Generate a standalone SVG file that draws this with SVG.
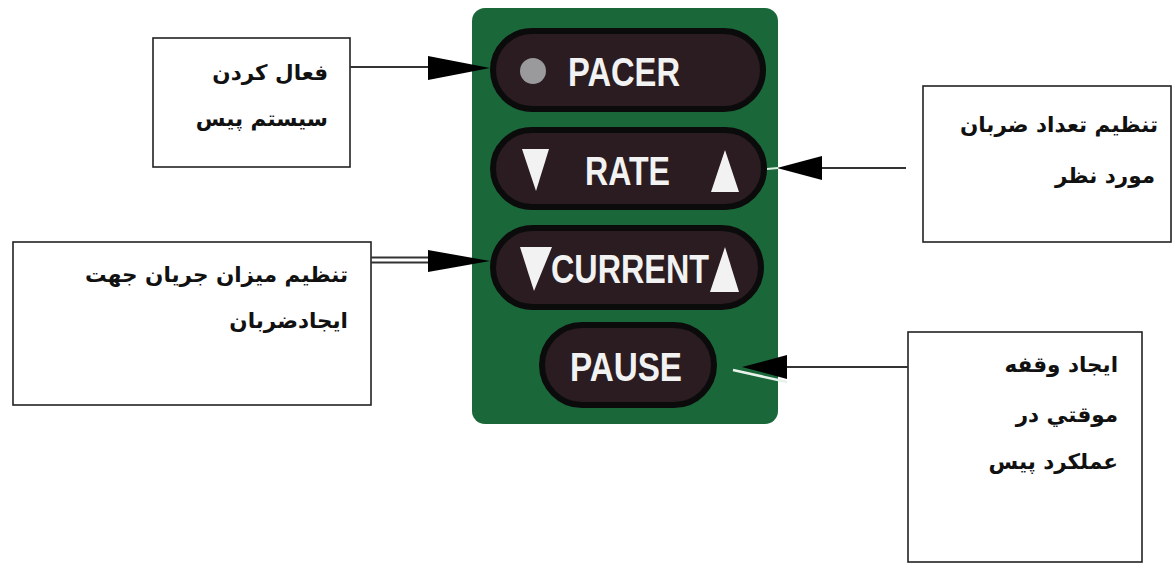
<svg xmlns="http://www.w3.org/2000/svg" width="1174" height="568" viewBox="0 0 1174 568">
<style>
.box{fill:#fff;stroke:#222;stroke-width:1.6}
.lbl{font-family:"DejaVu Sans",sans-serif;font-weight:bold;font-size:21.5px;fill:#111;text-anchor:end}
.btn{fill:#2a1c21;stroke:#0b0b0b;stroke-width:6}
.bt{font-family:"Liberation Sans",Arial,sans-serif;font-weight:bold;fill:#f2f2f2;font-size:40px}
.con{stroke:#333;stroke-width:1.8;fill:none}
.tri{fill:#f2f2f2}
</style>
<rect width="1174" height="568" fill="#fff"/>

<g id="panel">
<rect x="472" y="8" width="306" height="416" rx="13" fill="#1a673a"/>
</g>

<g id="btn-pacer">
<rect class="btn" x="493" y="31" width="270" height="78" rx="39"/>
<circle cx="533" cy="71" r="13" fill="#9a9a9c"/>
<text class="bt" x="568" y="86" textLength="112" lengthAdjust="spacingAndGlyphs">PACER</text>
</g>
<g id="btn-rate">
<rect class="btn" x="493" y="130" width="271" height="77" rx="38.5"/>
<polygon class="tri" points="522,149 549,149 536,191"/>
<text class="bt" x="585" y="185" textLength="85" lengthAdjust="spacingAndGlyphs">RATE</text>
<polygon class="tri" points="725,150 739,192 711,192"/>
</g>
<g id="btn-current">
<rect class="btn" x="493" y="228" width="268" height="79" rx="39.5"/>
<polygon class="tri" points="520,247 552,247 534,291"/>
<text class="bt" x="551" y="283" textLength="158" lengthAdjust="spacingAndGlyphs">CURRENT</text>
<polygon class="tri" points="725,247 739,292 710,292"/>
</g>
<g id="btn-pause">
<rect class="btn" x="542" y="325" width="172" height="80" rx="40"/>
<text class="bt" x="570" y="381" textLength="112" lengthAdjust="spacingAndGlyphs">PAUSE</text>
</g>

<g id="node-pacer">
<rect class="box" x="153" y="38" width="197" height="129"/>
<text class="lbl" x="328" y="80">فعال کردن</text>
<text class="lbl" x="328" y="126">سیستم پیس</text>
</g>
<g id="node-rate">
<rect class="box" x="923" y="86" width="248" height="156"/>
<text class="lbl" x="1158" y="132">تنظیم تعداد ضربان</text>
<text class="lbl" x="1155" y="183">مورد نظر</text>
</g>
<g id="node-current">
<rect class="box" x="13" y="242" width="358" height="163"/>
<text class="lbl" x="348" y="282">تنظیم میزان جریان جهت</text>
<text class="lbl" x="348" y="328">ایجادضربان</text>
</g>
<g id="node-pause">
<rect class="box" x="908" y="332" width="234" height="230"/>
<text class="lbl" x="1118" y="372">ایجاد وقفه</text>
<text class="lbl" x="1118" y="422">موقتي در</text>
<text class="lbl" x="1118" y="469">عملکرد پیس</text>
</g>

<g id="connectors">
<line x1="350" y1="67" x2="430" y2="67" class="con"/>
<polygon points="428,56 490,68 428,80" fill="#000"/>
<line x1="906" y1="168" x2="820" y2="168" class="con" stroke="#888"/>
<polygon points="822,156 777,168 822,180" fill="#000"/>
<line x1="778" y1="168" x2="767" y2="169" stroke="#d8eede" stroke-width="2"/>
<line x1="371" y1="257.5" x2="430" y2="257.5" class="con" stroke-width="1.4"/>
<line x1="371" y1="262.5" x2="430" y2="262.5" class="con" stroke-width="1.4"/>
<polygon points="428,250 490,261 428,272" fill="#000"/>
<line x1="908" y1="367" x2="785" y2="367" class="con" stroke="#555"/>
<polygon points="787,355 742,367 787,379" fill="#000"/>
<line x1="733" y1="370" x2="787" y2="382" stroke="#e6f2ea" stroke-width="2.5"/>
</g>
</svg>
